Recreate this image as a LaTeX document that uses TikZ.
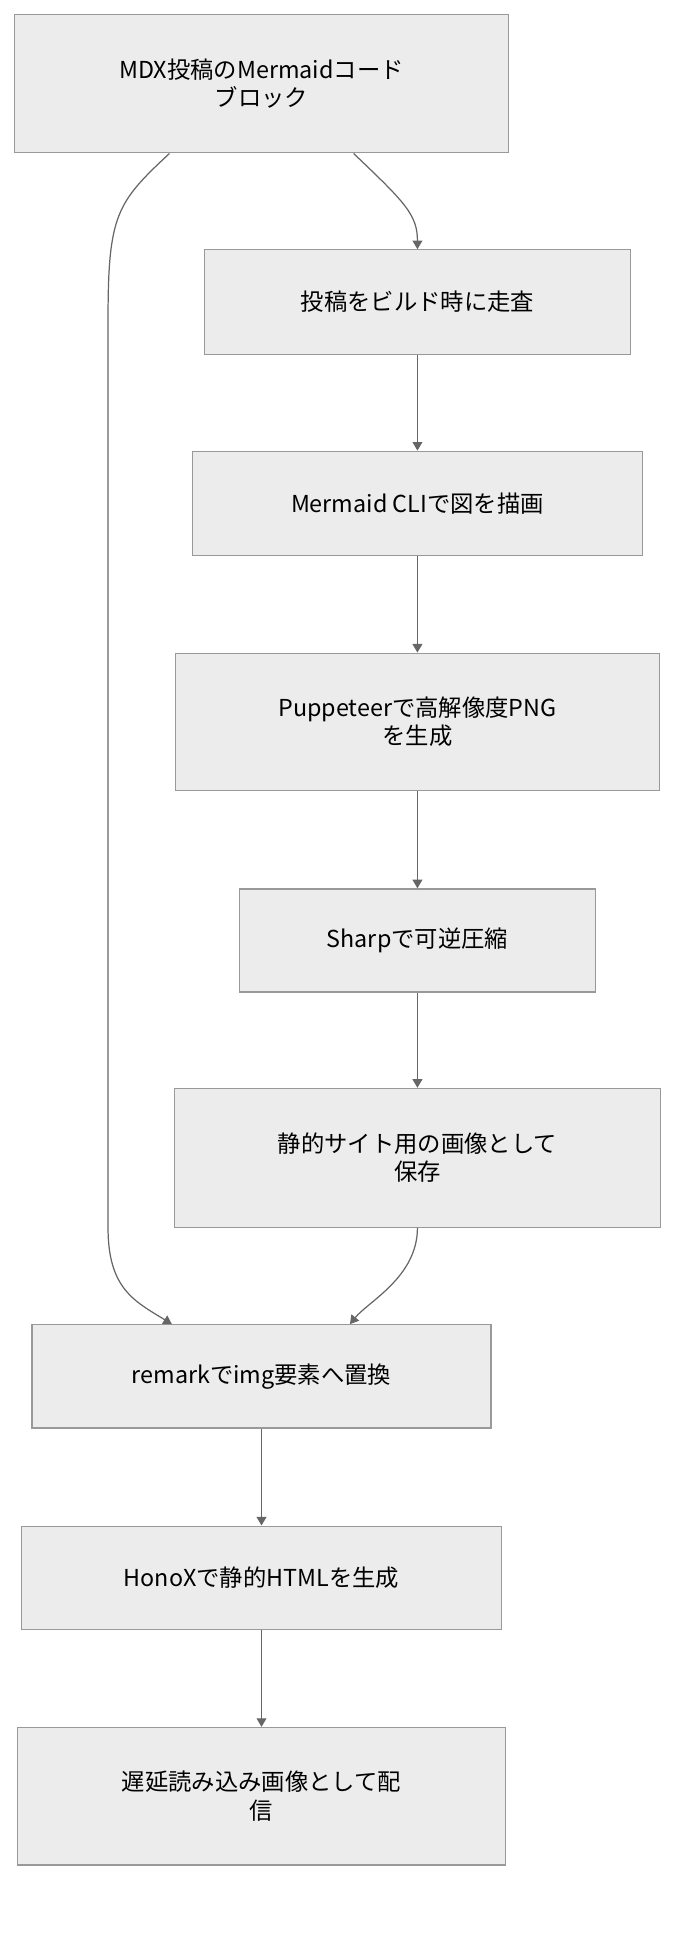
\documentclass[tikz,border=0pt]{standalone}
\usepackage{fontspec}
\setmainfont{Noto Sans CJK JP}
\usetikzlibrary{positioning,arrows.meta}
\definecolor{boxfill}{HTML}{ECECEC}
\definecolor{boxline}{HTML}{999999}
\definecolor{linkline}{HTML}{666666}
\tikzset{
  stepbox/.style={draw=boxline, fill=boxfill, line width=1pt, align=center, font=\fontsize{19}{23}\selectfont, inner sep=0pt},
  link/.style={draw=linkline, line width=1pt, -{Triangle[length=7pt,width=8pt]}}
}
\begin{document}
\begin{tikzpicture}[x=1pt,y=-1pt]
    \useasboundingbox (0,0) rectangle (570,1585);
    % Steps
    \node[stepbox, minimum width=402, minimum height=113] (mdx) at (213,68) {MDX投稿のMermaidコード\\ブロック};
    \node[stepbox, minimum width=347, minimum height=85] (scan) at (340,246) {投稿をビルド時に走査};
    \node[stepbox, minimum width=367, minimum height=85] (cli) at (340,410) {Mermaid CLIで図を描画};
    \node[stepbox, minimum width=394, minimum height=112] (png) at (340,588) {Puppeteerで高解像度PNG\\を生成};
    \node[stepbox, minimum width=290, minimum height=84] (sharp) at (340,766) {Sharpで可逆圧縮};
    \node[stepbox, minimum width=396, minimum height=113] (save) at (340,943) {静的サイト用の画像として\\保存};
    \node[stepbox, minimum width=374, minimum height=84] (remark) at (213,1121) {remarkでimg要素へ置換};
    \node[stepbox, minimum width=391, minimum height=84] (honox) at (213,1285) {HonoXで静的HTMLを生成};
    \node[stepbox, minimum width=397, minimum height=112] (lazy) at (213,1463) {遅延読み込み画像として配\\信};

    % Links
    \draw[link] (mdx.south -| 288,0) .. controls (330,165) and (340,175) .. (scan.north);
    \draw[link] (mdx.south -| 138,0) .. controls (95,165) and (88,175) .. (88,260) -- (88,1000)
        .. controls (88,1050) and (110,1060) .. (remark.north -| 140,0);
    \draw[link] (scan) -- (cli);
    \draw[link] (cli) -- (png);
    \draw[link] (png) -- (sharp);
    \draw[link] (sharp) -- (save);
    \draw[link] (save.south) .. controls (340,1040) and (300,1060) .. (remark.north -| 285,0);
    \draw[link] (remark) -- (honox);
    \draw[link] (honox) -- (lazy);
\end{tikzpicture}
\end{document}
